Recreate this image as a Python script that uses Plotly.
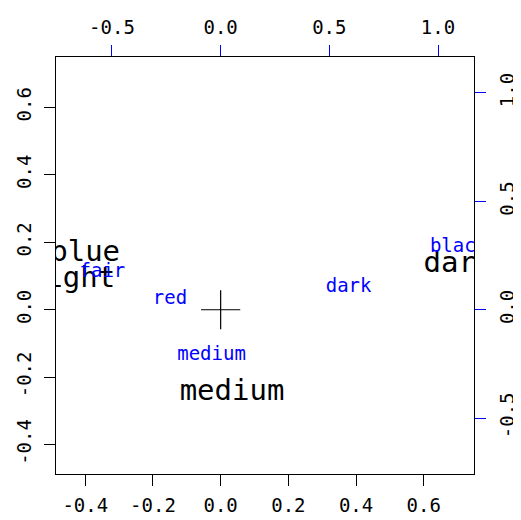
import plotly.graph_objects as go

# Row points (eye colour) - primary axes
row_labels = ["blue", "light", "medium", "dark"]
row_x = [-0.4003, -0.4407, 0.0336, 0.7027]
row_y = [0.1655, 0.0885, -0.2451, 0.1339]

# Column points (hair colour) - secondary axes
col_labels = ["fair", "red", "medium", "dark", "black"]
col_x = [-0.5440, -0.2332, -0.0420, 0.5886, 1.0944]
col_y = [0.1739, 0.0483, -0.2084, 0.1040, 0.2865]

# Axis ranges
prim_range = [-0.4864, 0.7484]
sec_range = [-0.7575, 1.1656]

prim_ticks = [-0.4, -0.2, 0.0, 0.2, 0.4, 0.6]
prim_ticktext = ["-0.4", "-0.2", "0.0", "0.2", "0.4", "0.6"]
sec_ticks = [-0.5, 0.0, 0.5, 1.0]
sec_ticktext = ["-0.5", "0.0", "0.5", "1.0"]

FONT = "DejaVu Sans Mono"
BLUE = "#0000FF"

fig = go.Figure()

fig.add_trace(go.Scatter(
    x=[0], y=[0], mode="markers",
    marker=dict(symbol="cross-thin", size=28, line=dict(color="black", width=1.2)),
    xaxis="x", yaxis="y", showlegend=False, hoverinfo="skip"))

fig.add_trace(go.Scatter(
    x=row_x, y=row_y, text=row_labels, mode="text",
    textposition="middle center",
    textfont=dict(family=FONT, size=29, color="black"),
    xaxis="x", yaxis="y", showlegend=False, cliponaxis=True))

fig.add_trace(go.Scatter(
    x=col_x, y=col_y, text=col_labels, mode="text",
    textposition="middle center",
    textfont=dict(family=FONT, size=19, color=BLUE),
    xaxis="x2", yaxis="y2", showlegend=False, cliponaxis=True))

axis_common = dict(showgrid=False, zeroline=False, showline=True, linecolor="black",
                   linewidth=1, ticks="outside", ticklen=11, automargin=False,
                   tickfont=dict(family=FONT, size=19, color="black"))

fig.update_layout(
    width=513, height=512,
    margin=dict(l=48, r=47, t=49, b=46, autoexpand=False),
    paper_bgcolor="white", plot_bgcolor="white",
    showlegend=False,
    xaxis=dict(range=prim_range, tickvals=prim_ticks, ticktext=prim_ticktext,
               tickcolor="black", side="bottom", ticklabelstandoff=3, **axis_common),
    yaxis=dict(range=prim_range, tickvals=prim_ticks, ticktext=prim_ticktext,
               tickcolor="black", tickangle=-90, side="left", ticklabelstandoff=5,
               **axis_common),
    xaxis2=dict(range=sec_range, tickvals=sec_ticks, ticktext=sec_ticktext,
                tickcolor=BLUE, overlaying="x", side="top", anchor="y",
                ticklabelstandoff=3, **axis_common),
    yaxis2=dict(range=sec_range, tickvals=sec_ticks, ticktext=sec_ticktext,
                tickcolor=BLUE, tickangle=-90, overlaying="y", side="right", anchor="x",
                ticklabelstandoff=5, **axis_common),
)

fig.write_html(
    "out.html",
    post_script="document.documentElement.style.overflow='hidden';"
                "document.body.style.overflow='hidden';",
)
